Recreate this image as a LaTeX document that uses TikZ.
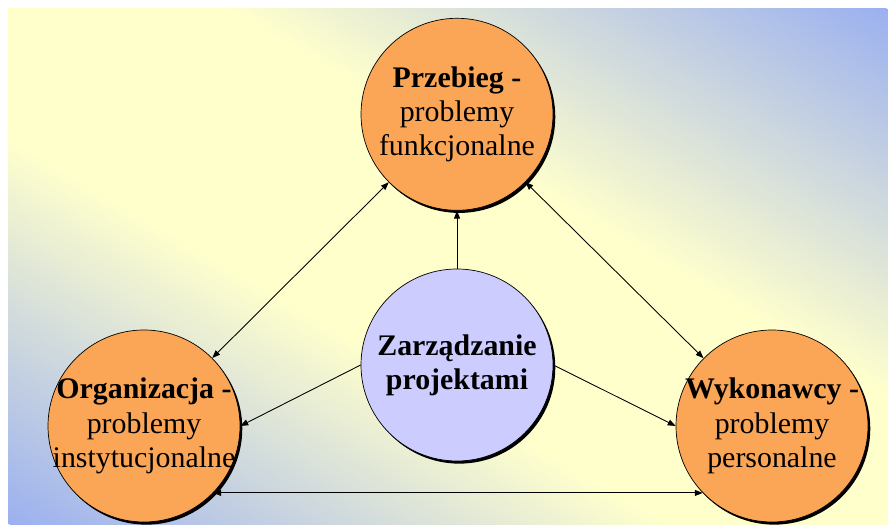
\documentclass[tikz,border=0pt]{standalone}
\usepackage{fontspec}
\setmainfont{Liberation Serif}
\usetikzlibrary{arrows.meta, positioning, shadows}

\definecolor{bgyellow}{RGB}{255,255,204}
\definecolor{bgblue}{RGB}{155,176,240}
\definecolor{topicorange}{RGB}{250,166,86}
\definecolor{hublilac}{RGB}{204,204,255}

% blue - yellow - blue band for the backdrop
\pgfdeclareverticalshading{bgband}{100bp}{color(0bp)=(bgblue); color(25bp)=(bgblue);
  color(43.75bp)=(bgyellow); color(56.25bp)=(bgyellow); color(75bp)=(bgblue); color(100bp)=(bgblue)}

\begin{document}
\begin{tikzpicture}[
    topic/.style={circle, draw, thin, fill=topicorange, minimum size=3.84cm, inner sep=0pt,
        drop shadow={shadow xshift=1.3pt, shadow yshift=-1.5pt, fill=black, opacity=1}},
    hub/.style={topic, fill=hublilac},
    caption/.style={align=center, inner sep=0pt, font=\fontsize{17}{19.5}\selectfont},
    arrow/.style={line width=0.5pt, -{Triangle[length=4.5pt, width=3.4pt]}},
    twoway/.style={line width=0.5pt, {Triangle[length=4.5pt, width=3.4pt]}-{Triangle[length=4.5pt, width=3.4pt]}}
]

% Background
\useasboundingbox (0,0) rectangle (17.76,10.48);
\begin{scope}
  \clip (0.16,0) rectangle (17.76,10.30);
  \begin{scope}[transform canvas={rotate around={-30.3:(8.96,5.15)}}]
    \shade[shading=bgband] (-4.04,-3.73) rectangle (21.96,14.03);
  \end{scope}
\end{scope}

% Nodes
\node[hub, label={[caption]center:{\textbf{Zarządzanie}\\\textbf{projektami}}}] (mgmt) at (9.14,3.18) {};
\node[topic, above=1.16cm of mgmt,
      label={[caption]center:{\textbf{Przebieg -}\\problemy\\funkcjonalne}}] (flow) {};
\node[topic, label={[caption]center:{\textbf{Organizacja -}\\problemy\\instytucjonalne}}] (org) at (2.88,1.96) {};
\node[topic, label={[caption]center:{\textbf{Wykonawcy -}\\problemy\\personalne}}] (staff) at (15.44,1.96) {};

% Connections
\draw[arrow] (mgmt) -- (flow);
\draw[twoway] (flow) -- (org);
\draw[twoway] (flow) -- (staff);
\draw[arrow] (mgmt.west) -- (org.east);
\draw[arrow] (mgmt.east) -- (staff.west);
\draw[twoway] (org.-44) -- (staff.-136);

\end{tikzpicture}
\end{document}
